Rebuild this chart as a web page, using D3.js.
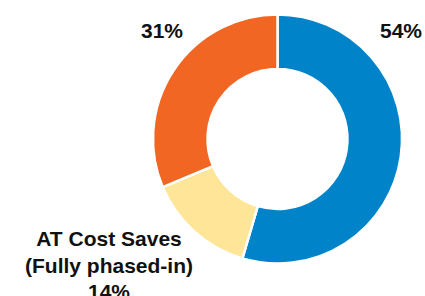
<!DOCTYPE html>
<html>
<head>
<meta charset="utf-8">
<script src="https://cdn.jsdelivr.net/npm/d3@7"></script>
<style>
  body { margin: 0; background: #fff; }
  text { font-family: "Liberation Sans", Arial, sans-serif; font-weight: bold; fill: #111; }
</style>
</head>
<body>
<div id="chart"></div>
<script>
// data
var segments = ["Segment 1", "AT Cost Saves (Fully phased-in)", "Segment 3"];
var values = [54, 14, 31];
var labels = [["54%"], ["AT Cost Saves", "(Fully phased-in)", "14%"], ["31%"]];
var colors = ["#0083C8", "#FEE598", "#F26624"];

var svgWidth = 425, svgHeight = 296;
var cx = 277.5, cy = 139;
var outerR = 124.5, innerR = 70;

var svg = d3.select("#chart")
    .append("svg")
    .attr("width", svgWidth)
    .attr("height", svgHeight);

var chartGroup = svg.append("g")
    .attr("transform", `translate(${cx}, ${cy})`);

var pie = d3.pie().sort(null).value(d => d);
var arc = d3.arc().innerRadius(innerR).outerRadius(outerR);

var arcs = pie(values);

chartGroup.selectAll("path")
    .data(arcs)
    .enter()
    .append("path")
    .attr("d", arc)
    .attr("fill", (d, i) => colors[i])
    .attr("stroke", "#fff")
    .attr("stroke-width", 2.5);

// label anchors (relative to chart centre), one per slice
var labelPos = [[123.5, -101], [-168.5, 107], [-115.5, -101]];
var lineHeight = 26.5;

labels.forEach(function (lines, i) {
    var t = chartGroup.append("text")
        .attr("text-anchor", "middle")
        .attr("font-size", "21px")
        .attr("x", labelPos[i][0])
        .attr("y", labelPos[i][1]);
    lines.forEach(function (line, j) {
        t.append("tspan")
            .attr("x", labelPos[i][0])
            .attr("dy", j === 0 ? 0 : lineHeight)
            .text(line);
    });
});
</script>
</body>
</html>
